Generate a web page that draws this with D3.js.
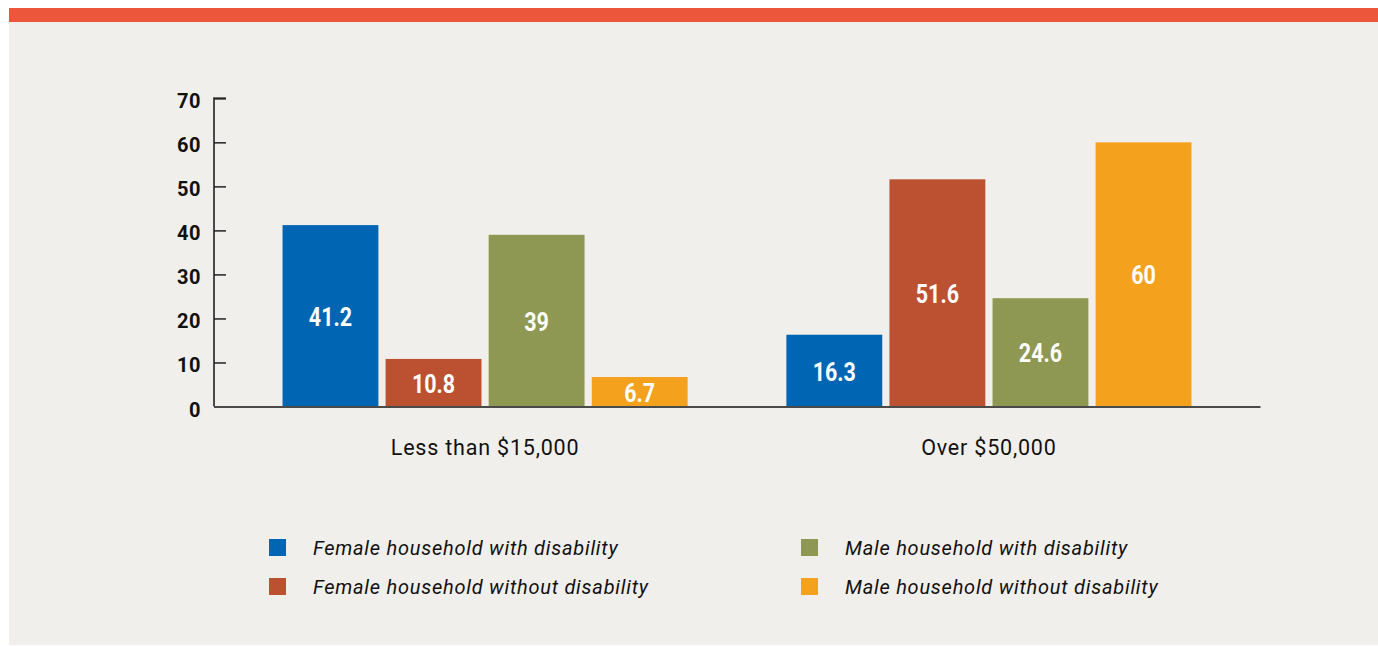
<!DOCTYPE html>
<html>
<head>
<meta charset="utf-8">
<script src="https://cdn.jsdelivr.net/npm/d3@7"></script>
<style>
  html, body { margin: 0; padding: 0; background: #ffffff; }
  svg { display: block; font-family: Roboto, "Noto Sans", sans-serif; }
</style>
</head>
<body>
<svg id="chart" width="1378" height="646"></svg>
<script>
const categories = ["Less than $15,000", "Over $50,000"];
const seriesNames = [
  "Female household with disability",
  "Female household without disability",
  "Male household with disability",
  "Male household without disability"
];
const seriesColors = ["#0065b2", "#bb5131", "#8f9852", "#f4a11e"];
const femaleWithDisability = [41.2, 16.3];
const femaleWithoutDisability = [10.8, 51.6];
const maleWithDisability = [39, 24.6];
const maleWithoutDisability = [6.7, 60];
const yTicks = [0, 10, 20, 30, 40, 50, 60, 70];

const seriesValues = [femaleWithDisability, femaleWithoutDisability, maleWithDisability, maleWithoutDisability];

const svg = d3.select("#chart");

// panel background + top band
svg.append("rect").attr("x", 9).attr("y", 22).attr("width", 1369).attr("height", 623).attr("fill", "#f1efeb");
svg.append("rect").attr("x", 9).attr("y", 8).attr("width", 1369).attr("height", 14).attr("fill", "#ec573b");

const y = d3.scaleLinear().domain([0, 70]).range([406.5, 98.3]);
const x0 = d3.scaleBand().domain(categories).range([214, 1260]).paddingInner(0.196).paddingOuter(0.136);
const x1 = d3.scaleBand().domain(seriesNames).range([0, x0.bandwidth()]).paddingInner(0.07).paddingOuter(0);

// bars
const groups = svg.append("g").selectAll("g")
  .data(categories)
  .join("g")
  .attr("transform", d => `translate(${x0(d)},0)`);

const bars = groups.selectAll("g.bar")
  .data((c, ci) => seriesNames.map((s, si) => ({ s, si, v: seriesValues[si][ci] })))
  .join("g").attr("class", "bar");

bars.append("rect")
  .attr("x", d => x1(d.s))
  .attr("y", d => y(d.v))
  .attr("width", x1.bandwidth())
  .attr("height", d => y(0) - y(d.v))
  .attr("fill", d => seriesColors[d.si]);

bars.append("text")
  .attr("transform", d => `translate(${x1(d.s) + x1.bandwidth() / 2},${(y(d.v) + y(0)) / 2 + 10}) scale(0.86,1)`)
  .attr("text-anchor", "middle")
  .attr("fill", "#ffffff")
  .attr("font-weight", 700)
  .attr("font-size", 25)
  .text(d => d.v);

// y axis
const yAxis = d3.axisRight(y).tickValues(yTicks).tickSize(12).tickFormat("");
const yg = svg.append("g").attr("transform", "translate(214,0)").call(yAxis);
yg.select(".domain").attr("stroke", "#4a4a4a").attr("stroke-width", 2).attr("d", `M12,${y(70)}H0V${y(0)}`);
yg.selectAll(".tick line").attr("stroke", "#222").attr("stroke-width", 1.5);

svg.append("g").selectAll("text")
  .data(yTicks)
  .join("text")
  .attr("x", 201)
  .attr("y", d => y(d) + 10)
  .attr("text-anchor", "end")
  .attr("font-weight", 700)
  .attr("font-size", 20)
  .attr("letter-spacing", 0.5)
  .attr("fill", "#111")
  .text(d => d);

// x axis
const xAxis = d3.axisBottom(x0).tickSize(0).tickPadding(0).tickFormat("");
const xg = svg.append("g").attr("transform", `translate(0,${y(0)})`).call(xAxis);
xg.select(".domain").attr("stroke", "#4a4a4a").attr("stroke-width", 2);

svg.append("g").selectAll("text")
  .data(categories)
  .join("text")
  .attr("x", d => x0(d) + x0.bandwidth() / 2)
  .attr("y", 455)
  .attr("text-anchor", "middle")
  .attr("font-size", 21.5)
  .attr("letter-spacing", 0.8)
  .attr("fill", "#111")
  .text(d => d);

// legend
const legendPos = [
  { x: 269, y: 548 }, { x: 269, y: 587 },
  { x: 801, y: 548 }, { x: 801, y: 587 }
];
const lg = svg.append("g").selectAll("g")
  .data(seriesNames)
  .join("g")
  .attr("transform", (d, i) => `translate(${legendPos[i].x},${legendPos[i].y})`);
lg.append("rect").attr("x", 0).attr("y", -9).attr("width", 17).attr("height", 17)
  .attr("fill", (d, i) => seriesColors[i]);
lg.append("text").attr("x", 44).attr("y", 7)
  .attr("font-size", 20).attr("font-style", "italic").attr("letter-spacing", 0.75).attr("fill", "#111")
  .text(d => d);
</script>
</body>
</html>
